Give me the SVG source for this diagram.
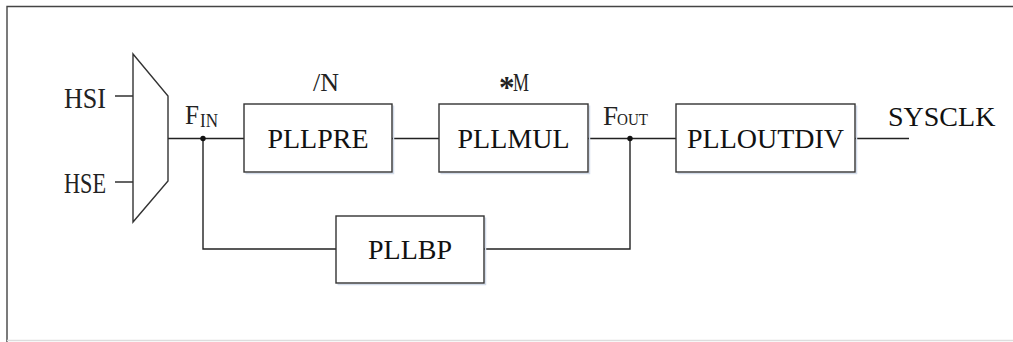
<svg xmlns="http://www.w3.org/2000/svg" width="1013" height="342" viewBox="0 0 1013 342">
<style>
.box{fill:#fff;stroke:#333;stroke-width:1.4}
.shadow{fill:none;stroke:#d3dcea;stroke-width:1.5}
.wire{fill:none;stroke:#222;stroke-width:1.4}
.lbl{font-family:"Liberation Serif","Times New Roman",serif;font-size:28px;fill:#111}
.cjk{font-family:"Liberation Serif","Times New Roman",serif;fill:#222}
.dot{fill:#111}
</style>
<rect width="1013" height="342" fill="#fff"/>
<g id="frame">
<path d="M7 342 V6.5 H1013" fill="none" stroke="#444" stroke-width="1.4"/>
<line x1="7" y1="340.5" x2="1013" y2="340.5" stroke="#ddd" stroke-width="1.5"/>
</g>
<g id="connectors">
<line class="wire" x1="115" y1="96" x2="133" y2="96"/>
<line class="wire" x1="115" y1="182" x2="133" y2="182"/>
<line class="wire" x1="168" y1="138.5" x2="244" y2="138.5"/>
<line class="wire" x1="392" y1="138.5" x2="439" y2="138.5"/>
<line class="wire" x1="588" y1="138.5" x2="676" y2="138.5"/>
<line class="wire" x1="855" y1="138.5" x2="909" y2="138.5"/>
<polyline class="wire" points="203,138.5 203,249 336,249"/>
<polyline class="wire" points="484,249 630,249 630,138.5"/>
<circle class="dot" cx="203" cy="138.5" r="2.7"/>
<circle class="dot" cx="630" cy="138.5" r="2.7"/>
</g>
<g id="mux">
<polygon class="box" points="133,54 168,96 168,181 133,222"/>
</g>
<g id="hsi"><text class="cjk" x="64" y="108" font-size="29" textLength="42" lengthAdjust="spacingAndGlyphs">HSI</text></g>
<g id="hse"><text class="cjk" x="64" y="193" font-size="29" textLength="42" lengthAdjust="spacingAndGlyphs">HSE</text></g>
<g id="fin">
<text class="cjk" x="185" y="124" font-size="27" textLength="14" lengthAdjust="spacingAndGlyphs">F</text>
<text class="cjk" x="200" y="127" font-size="19" textLength="18" lengthAdjust="spacingAndGlyphs">IN</text>
</g>
<g id="pllpre">
<polyline class="shadow" points="245.5,173.5 393.5,173.5 393.5,105.5"/>
<rect class="box" x="244" y="104" width="148" height="68"/>
<text class="lbl" x="318" y="147.5" text-anchor="middle">PLLPRE</text>
<text class="cjk" x="313" y="91" font-size="25" textLength="26" lengthAdjust="spacingAndGlyphs">/N</text>
</g>
<g id="pllmul">
<polyline class="shadow" points="440.5,173.5 589.5,173.5 589.5,105.5"/>
<rect class="box" x="439" y="104" width="149" height="68"/>
<text class="lbl" x="513.5" y="147.5" text-anchor="middle">PLLMUL</text>
<text class="cjk" x="499" y="98" font-size="31" font-weight="bold">*</text>
<text class="cjk" x="513" y="91" font-size="26" textLength="16" lengthAdjust="spacingAndGlyphs">M</text>
</g>
<g id="fout">
<text class="cjk" x="603" y="125" font-size="27">F</text>
<text class="cjk" x="617" y="125" font-size="16" textLength="31" lengthAdjust="spacingAndGlyphs">OUT</text>
</g>
<g id="plloutdiv">
<polyline class="shadow" points="677.5,173.5 856.5,173.5 856.5,105.5"/>
<rect class="box" x="676" y="104" width="179" height="68"/>
<text class="lbl" x="765.5" y="147.5" text-anchor="middle">PLLOUTDIV</text>
</g>
<g id="sysclk"><text class="lbl" x="888" y="126">SYSCLK</text></g>
<g id="pllbp">
<polyline class="shadow" points="337.5,284.5 485.5,284.5 485.5,217.5"/>
<rect class="box" x="336" y="216" width="148" height="67"/>
<text class="lbl" x="410" y="259" text-anchor="middle">PLLBP</text>
</g>
</svg>
